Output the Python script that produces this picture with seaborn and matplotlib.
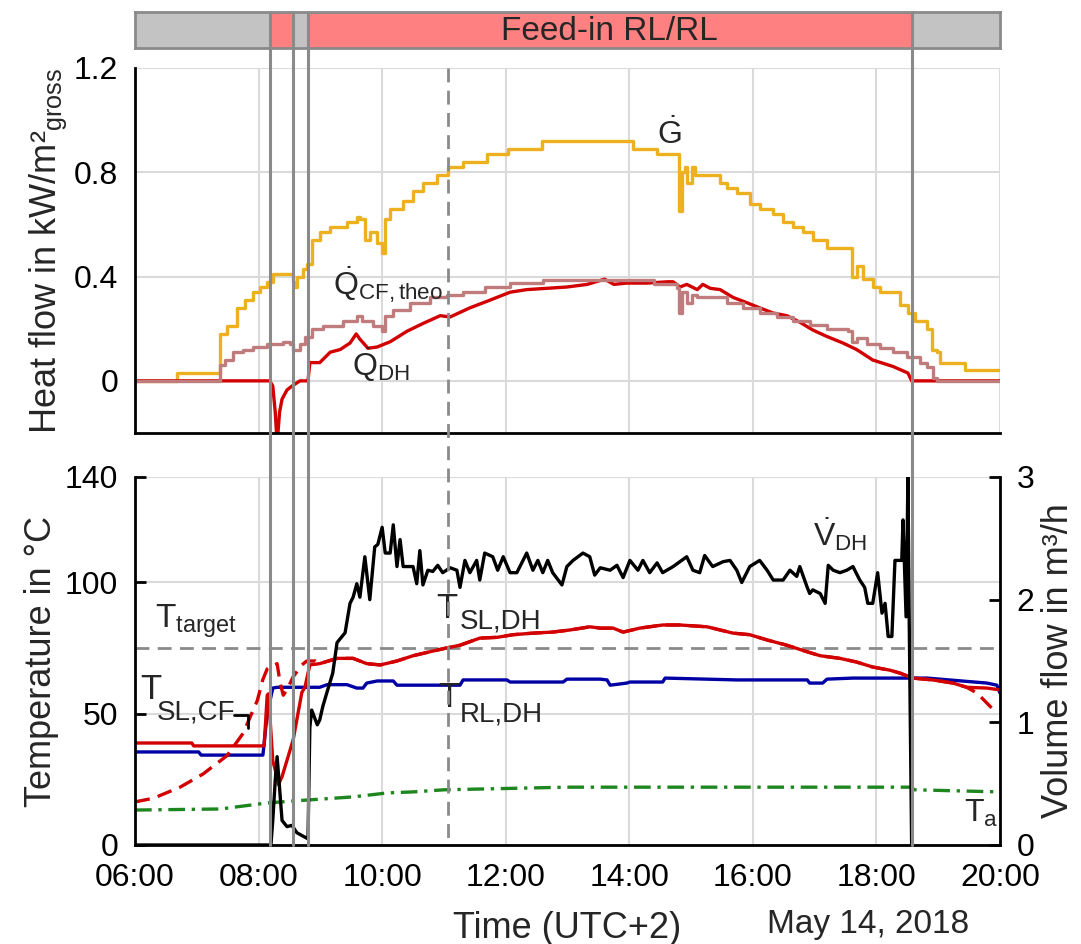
import numpy as np
import matplotlib
matplotlib.use("Agg")
import matplotlib.pyplot as plt
import matplotlib.transforms as mtransforms
from matplotlib.lines import Line2D
import seaborn as sns

# ---- data (time in hours, UTC+2) ----
# phases of the top bar
phase_edges = [6.0, 8.18, 8.56, 8.80, 18.57, 20.0]
phase_colors = ['#C3C3C3', '#FF8080', '#C3C3C3', '#FF8080', '#C3C3C3']
phase_label = 'Feed-in RL/RL'
marker_times = [8.18, 8.56, 8.80, 18.57]
dashed_time = 11.07

# heat flows, kW/m2 gross
t_g = [6.0, 6.68, 6.68, 7.21, 7.38, 7.49, 7.65, 7.78, 7.91, 8.02, 8.14, 8.23, 8.51, 8.56, 8.59, 8.62,
       8.72, 8.78, 8.86, 8.99, 9.16, 9.43, 9.59, 9.64, 9.72, 9.80, 9.92, 10.00, 10.05, 10.13, 10.34,
       10.50, 10.66, 10.89, 11.07, 11.31, 11.70, 12.04, 12.59, 14.01, 14.06, 14.42, 14.45, 14.77,
       14.80, 14.85, 14.90, 14.93, 15.01, 15.06, 15.42, 15.47, 15.58, 15.74, 15.95, 16.11, 16.33,
       16.49, 16.65, 16.81, 16.97, 17.20, 17.54, 17.60, 17.68, 17.78, 17.94, 18.06, 18.27, 18.38,
       18.51, 18.62, 18.75, 18.82, 18.90, 18.98, 19.03, 19.40, 19.43, 20.0]
g = [0, 0, 0.03, 0.03, 0.18, 0.21, 0.28, 0.31, 0.34, 0.36, 0.38, 0.41, 0.41, 0.38, 0.36, 0.40,
     0.43, 0.45, 0.54, 0.57, 0.59, 0.61, 0.63, 0.62, 0.54, 0.57, 0.53, 0.49, 0.62, 0.66, 0.69,
     0.73, 0.76, 0.79, 0.82, 0.84, 0.87, 0.89, 0.92, 0.92, 0.89, 0.89, 0.87, 0.87,
     0.65, 0.80, 0.82, 0.76, 0.82, 0.79, 0.79, 0.76, 0.74, 0.72, 0.68, 0.66, 0.64,
     0.61, 0.59, 0.57, 0.54, 0.51, 0.51, 0.40, 0.44, 0.39, 0.36, 0.34, 0.34, 0.29,
     0.26, 0.23, 0.23, 0.20, 0.12, 0.11, 0.07, 0.07, 0.04, 0.04]

t_qcf = [6.0, 7.25, 7.38, 7.46, 7.59, 7.75, 7.91, 8.14, 8.40, 8.51, 8.56, 8.67, 8.75, 8.86, 9.04,
         9.37, 9.59, 9.67, 9.85, 10.00, 10.05, 10.18, 10.45, 10.77, 11.05, 11.31, 11.66, 12.07,
         12.60, 14.01, 14.40, 14.77, 14.80, 14.85, 14.93, 15.01, 15.10, 15.35, 15.58, 15.84,
         16.11, 16.39, 16.65, 16.92, 17.20, 17.54, 17.60, 17.68, 17.85, 18.06, 18.27, 18.49,
         18.70, 18.82, 18.91, 18.98, 20.0]
q_cf = [0, 0, 0.06, 0.08, 0.11, 0.12, 0.13, 0.14, 0.15, 0.14, 0.12, 0.14, 0.17, 0.20, 0.21,
        0.23, 0.25, 0.23, 0.21, 0.19, 0.25, 0.27, 0.30, 0.32, 0.33, 0.34, 0.36, 0.375,
        0.385, 0.385, 0.37, 0.355, 0.26, 0.34, 0.30, 0.33, 0.32, 0.32, 0.30, 0.28,
        0.26, 0.245, 0.23, 0.215, 0.20, 0.19, 0.15, 0.165, 0.14, 0.125, 0.11, 0.09,
        0.07, 0.055, 0.01, 0, 0]

t_qdh = [6.0, 8.18, 8.23, 8.27, 8.30, 8.34, 8.38, 8.46, 8.54, 8.67, 8.80, 8.83, 8.99, 9.16, 9.32,
         9.48, 9.58, 9.64, 9.77, 9.92, 10.13, 10.40, 10.66, 10.94, 11.10, 11.42, 11.75, 12.07,
         12.34, 12.67, 12.99, 13.32, 13.60, 13.75, 13.96, 14.29, 14.62, 14.71, 14.82, 14.93,
         15.10, 15.19, 15.31, 15.47, 15.68, 15.90, 16.11, 16.33, 16.55, 16.76, 16.97, 17.20,
         17.46, 17.68, 17.94, 18.27, 18.51, 18.57, 20.0]
q_dh = [0, 0, -0.02, -0.12, -0.24, -0.12, -0.07, -0.035, -0.02, 0, 0, 0.07, 0.07, 0.11, 0.12,
        0.145, 0.18, 0.16, 0.125, 0.13, 0.15, 0.19, 0.22, 0.25, 0.245, 0.28, 0.31, 0.34,
        0.35, 0.355, 0.36, 0.37, 0.39, 0.37, 0.375, 0.375, 0.38, 0.38, 0.36, 0.37,
        0.35, 0.37, 0.355, 0.35, 0.32, 0.30, 0.28, 0.26, 0.25, 0.225, 0.195, 0.17,
        0.145, 0.12, 0.08, 0.055, 0.03, 0, 0]

# temperatures, degC
t_sldh = [6.0, 6.92, 6.95, 8.09, 8.14, 8.16, 8.23, 8.30, 8.32, 8.38, 8.56, 8.70, 8.75, 8.83, 8.99,
          9.27, 9.53, 9.75, 9.97, 10.24, 10.50, 10.77, 11.05, 11.26, 11.58, 11.86, 12.12, 12.44,
          12.76, 13.04, 13.36, 13.53, 13.74, 13.90, 14.17, 14.54, 14.82, 15.26, 15.47, 15.68,
          15.95, 16.23, 16.55, 16.88, 17.09, 17.41, 17.68, 17.94, 18.22, 18.38, 18.59, 18.91,
          19.24, 19.46, 19.79, 20.0]
sl_dh = [38.8, 38.8, 37.7, 37.7, 57, 57.5, 32, 26, 23, 26, 40, 58, 60, 68.5, 69,
         71, 71, 69, 68.5, 70, 72, 73.5, 75, 76, 78.7, 79, 80, 80.6,
         81, 81.8, 83, 82.5, 82.5, 81, 82.5, 83.7, 83.7, 83, 81.8, 80.6,
         80, 78, 76, 73.5, 72, 71, 69.6, 67.7, 66.5, 65.4, 63.5, 62.8,
         61.6, 60, 59.7, 59]

t_slcf_start = [6.0, 6.30, 6.73, 7.10, 7.49, 7.75, 7.98, 8.07, 8.14, 8.30, 8.35, 8.40, 8.46, 8.56,
                8.70, 8.78, 8.92]
slcf_start = [16.4, 17.8, 22, 27, 34, 42.5, 55, 63, 67, 69, 61.5, 57, 59, 64,
              68.5, 70, 70]
t_slcf_end = [19.63, 19.87]
slcf_end = [57.8, 52]

t_rldh = [6.0, 7.03, 7.07, 8.07, 8.14, 8.23, 8.30, 8.99, 9.11, 9.43, 9.59, 9.69, 9.75, 9.92, 10.18,
          10.24, 11.26, 11.31, 12.02, 12.07, 12.93, 12.99, 13.53, 13.64, 13.69, 13.96, 14.01,
          14.54, 14.58, 15.74, 16.88, 16.92, 17.13, 17.20, 17.62, 18.82, 19.79, 19.95, 20.0]
rl_dh = [35.4, 35.4, 34.2, 34.2, 50, 59.7, 60, 60, 61, 61, 59.7, 59.7, 61.6, 62.4, 62.4,
         60.8, 60.8, 62.8, 62.8, 62, 62, 63.1, 63.1, 62.8, 60.8, 61.6, 62,
         62, 63.5, 62.8, 62.8, 61.6, 61.6, 63.1, 63.5, 63.5, 61.6, 60.8, 57.8]

t_amb = [6.0, 7.38, 8.14, 8.78, 9.53, 10.08, 10.50, 11.0, 12.0, 13.0, 18.55, 18.62, 20.0]
amb = [13.3, 13.7, 16, 17.1, 18.3, 19.8, 20.2, 21, 21.5, 22, 22, 21, 20.2]

t_target = 75

# volume flow, m3/h
t_vdh = [6.0, 8.20, 8.23, 8.27, 8.30, 8.33, 8.38, 8.46, 8.54, 8.62, 8.80, 8.83, 8.86, 8.95, 8.99,
         9.04, 9.11, 9.20, 9.27, 9.40, 9.48, 9.53, 9.59, 9.64, 9.72, 9.80, 9.88, 9.93, 10.00,
         10.05, 10.13, 10.18, 10.24, 10.29, 10.34, 10.50, 10.56, 10.61, 10.66, 10.74, 10.82,
         10.90, 10.98, 11.10, 11.21, 11.26, 11.34, 11.42, 11.53, 11.58, 11.66, 11.79, 11.87,
         11.96, 12.07, 12.18, 12.34, 12.44, 12.52, 12.60, 12.68, 12.76, 12.91, 12.99, 13.09,
         13.25, 13.36, 13.44, 13.53, 13.69, 13.80, 13.90, 14.01, 14.14, 14.22, 14.33, 14.45,
         14.54, 14.71, 14.93, 15.03, 15.14, 15.22, 15.35, 15.52, 15.63, 15.74, 15.82, 15.95,
         16.11, 16.23, 16.33, 16.49, 16.60, 16.71, 16.76, 16.88, 16.92, 16.97, 17.09, 17.17,
         17.22, 17.30, 17.41, 17.52, 17.62, 17.73, 17.81, 17.86, 17.94, 18.02, 18.09, 18.14,
         18.19, 18.25, 18.30, 18.41, 18.43, 18.48, 18.51, 18.53, 18.57]
v_dh = [0, 0, 0.2, 0.53, 0.72, 0.53, 0.2, 0.15, 0.16, 0.1, 0.05, 0.96, 1.1, 0.98, 1.02,
        1.13, 1.25, 1.40, 1.65, 1.73, 1.97, 2.02, 2.13, 2.02, 2.35, 2.0, 2.43, 2.45, 2.59,
        2.38, 2.38, 2.61, 2.27, 2.49, 2.27, 2.27, 2.13, 2.40, 2.12, 2.24, 2.23,
        2.28, 2.22, 2.26, 2.24, 2.10, 2.32, 2.22, 2.32, 2.16, 2.38, 2.35, 2.24,
        2.35, 2.22, 2.22, 2.38, 2.24, 2.32, 2.22, 2.32, 2.22, 2.12, 2.27, 2.32,
        2.38, 2.35, 2.20, 2.26, 2.24, 2.28, 2.18, 2.32, 2.24, 2.32, 2.22, 2.30,
        2.22, 2.27, 2.35, 2.24, 2.22, 2.36, 2.27, 2.31, 2.32, 2.24, 2.14, 2.27,
        2.32, 2.24, 2.16, 2.16, 2.24, 2.19, 2.27, 2.10, 2.05, 2.08, 2.05, 1.97,
        2.28, 2.24, 2.22, 2.24, 2.27, 2.16, 2.10, 1.97, 1.97, 2.22, 1.89, 1.97,
        1.70, 1.70, 2.32, 2.32, 2.65, 1.86, 3.0, 1.86, 0]

x_ticks = [6, 8, 10, 12, 14, 16, 18, 20]
x_ticklabels = ['06:00', '08:00', '10:00', '12:00', '14:00', '16:00', '18:00', '20:00']

# ---- style ----
sns.set_style('white')
plt.rcParams['font.family'] = ['Liberation Sans', 'DejaVu Sans']
plt.rcParams['mathtext.fontset'] = 'custom'
plt.rcParams['mathtext.rm'] = 'Liberation Sans'
plt.rcParams['mathtext.it'] = 'Liberation Sans'
plt.rcParams['mathtext.default'] = 'regular'

C_G = '#EDB120'
C_RED = '#D20000'
C_QCF = '#C07C7C'
C_BLUE = '#0000A5'
C_GREEN = '#1E861E'
C_GRAY = '#8A8A8A'
C_GRID = '#DADADA'
FS = 23   # tick labels
FL = 26   # axis labels
FA = 23   # annotations
LW = 2.4

fig = plt.figure(figsize=(10.81, 9.44), dpi=100)
W, H = 1081, 944
ax_bar = fig.add_axes([135 / W, 1 - 48 / H, 865 / W, 36 / H])
ax_t = fig.add_axes([135 / W, 1 - 433 / H, 865 / W, 365 / H])
ax_b = fig.add_axes([135 / W, 1 - 845 / H, 865 / W, 368 / H])
ax_v = ax_b.twinx()

# phase bar
for i in range(len(phase_colors)):
    ax_bar.axvspan(phase_edges[i], phase_edges[i + 1], color=phase_colors[i], lw=0)
ax_bar.set_xlim(6, 20)
ax_bar.set_ylim(0, 1)
ax_bar.set_xticks([])
ax_bar.set_yticks([])
for s in ax_bar.spines.values():
    s.set_color(C_GRAY)
    s.set_linewidth(2)
ax_bar.text((phase_edges[3] + phase_edges[4]) / 2, 0.45, phase_label, ha='center', va='center', fontsize=24)

# top: heat flows
sns.lineplot(x=t_g, y=g, ax=ax_t, color=C_G, lw=LW, estimator=None, sort=False, drawstyle='steps-post')
sns.lineplot(x=t_qdh, y=q_dh, ax=ax_t, color=C_RED, lw=LW, estimator=None, sort=False)
sns.lineplot(x=t_qcf, y=q_cf, ax=ax_t, color=C_QCF, lw=LW, estimator=None, sort=False, drawstyle='steps-post')
ax_t.set_xlim(6, 20)
ax_t.set_ylim(-0.2, 1.2)
ax_t.set_yticks([0, 0.4, 0.8, 1.2])
ax_t.set_yticklabels(['0', '0.4', '0.8', '1.2'])
ax_t.set_xticks(x_ticks)
ax_t.set_xticklabels([])
ax_t.set_ylabel('Heat flow in kW/m²$_{gross}$', fontsize=FL)
ax_t.yaxis.set_label_coords(-0.076, 0.5)

ax_t.text(14.64, 0.945, r'$\dot{G}$', fontsize=FA, ha='center', va='center')
ax_t.text(9.20, 0.368, r'$\dot{Q}_{CF,theo}$', fontsize=FA, ha='left', va='center')
ax_t.text(9.51, 0.062, r'$\dot{Q}_{DH}$', fontsize=FA, ha='left', va='center')

# bottom: temperatures and volume flow
sl_dh_arr = np.array(sl_dh)
t_sldh_arr = np.array(t_sldh)
mid = (t_sldh_arr > 8.95) & (t_sldh_arr < 19.5)
t_slcf = np.concatenate([t_slcf_start, t_sldh_arr[mid], t_slcf_end])
sl_cf = np.concatenate([slcf_start, sl_dh_arr[mid], slcf_end])

ax_b.axhline(t_target, color=C_GRAY, lw=2, linestyle=(0, (5, 3)))
sns.lineplot(x=t_amb, y=amb, ax=ax_b, color=C_GREEN, lw=LW, estimator=None, sort=False,
             linestyle=(0, (5, 2, 1, 2)))
sns.lineplot(x=t_rldh, y=rl_dh, ax=ax_b, color=C_BLUE, lw=LW, estimator=None, sort=False)
sns.lineplot(x=t_slcf, y=sl_cf, ax=ax_b, color=C_RED, lw=LW, estimator=None, sort=False,
             linestyle=(0, (4.5, 2.5)))
sns.lineplot(x=t_sldh, y=sl_dh, ax=ax_b, color=C_RED, lw=LW, estimator=None, sort=False)
sns.lineplot(x=t_vdh, y=v_dh, ax=ax_v, color='black', lw=LW, estimator=None, sort=False)

ax_b.set_xlim(6, 20)
ax_b.set_ylim(0, 140)
ax_b.set_yticks([0, 50, 100, 140])
ax_b.set_xticks(x_ticks)
ax_b.set_xticklabels(x_ticklabels)
ax_b.set_ylabel('Temperature in °C', fontsize=FL)
ax_b.yaxis.set_label_coords(-0.088, 0.5)
ax_b.set_xlabel('Time (UTC+2)', fontsize=FL, labelpad=13)
ax_v.set_ylim(0, 3)
ax_v.set_yticks([0, 1, 2, 3])
ax_v.set_ylabel('Volume flow in m³/h', fontsize=FL)
ax_v.yaxis.set_label_coords(1.047, 0.5)
fig.text(868 / W, 1 - 924 / H, 'May 14, 2018', fontsize=24, ha='center', va='center')

ax_v.text(16.97, 2.53, r'$\dot{V}_{DH}$', fontsize=FA, ha='left', va='center')
ax_b.text(6.32, 85, r'$T_{target}$', fontsize=FA + 1, ha='left', va='center')
ax_b.text(6.08, 59, 'T', fontsize=FA + 2, ha='left', va='center')
ax_b.text(6.36, 50.5, 'SL,CF', fontsize=FA - 3, ha='left', va='center')
ax_b.annotate('', xy=(7.83, 44.5), xytext=(7.6, 49.4),
              arrowprops=dict(arrowstyle='-', color='black', lw=2, shrinkA=0, shrinkB=0,
                              connectionstyle='angle,angleA=0,angleB=90,rad=0'))
ax_b.text(10.88, 90, 'T', fontsize=FA + 2, ha='left', va='center')
ax_b.text(11.26, 85, 'SL,DH', fontsize=FA - 3, ha='left', va='center')
ax_b.text(10.9, 56, 'T', fontsize=FA + 2, ha='left', va='center')
ax_b.text(11.26, 49.5, 'RL,DH', fontsize=FA - 3, ha='left', va='center')
ax_b.text(19.42, 12, r'$T_a$', fontsize=FA, ha='left', va='center')

# axes styling
for ax in (ax_t, ax_b):
    ax.grid(True, color=C_GRID, lw=1.5)
    ax.set_axisbelow(True)
    ax.spines['top'].set_visible(False)
    ax.spines['right'].set_visible(False)
    ax.spines['left'].set_linewidth(2)
    ax.spines['bottom'].set_linewidth(2)
    ax.spines['left'].set_color('black')
    ax.spines['bottom'].set_color('black')
    ax.tick_params(direction='in', length=8, width=2, labelsize=FS, colors='black')
ax_t.tick_params(axis='y', pad=12)
ax_b.tick_params(axis='y', pad=12)
ax_b.tick_params(axis='x', pad=13)
ax_v.grid(False)
for k in ('left', 'top', 'bottom'):
    ax_v.spines[k].set_visible(False)
ax_v.spines['right'].set_linewidth(2)
ax_v.spines['right'].set_color('black')
ax_v.tick_params(direction='in', length=8, width=2, labelsize=FS, pad=12, colors='black')

# vertical phase markers across all panels
trans = mtransforms.blended_transform_factory(ax_b.transData, fig.transFigure)
y_top = ax_bar.get_position().y1
y_bot = ax_b.get_position().y0
for tm in marker_times:
    fig.add_artist(Line2D([tm, tm], [y_top, y_bot], transform=trans, color=C_GRAY, lw=2.2, zorder=5))
fig.add_artist(Line2D([dashed_time, dashed_time], [ax_t.get_position().y1, y_bot], transform=trans,
                      color=C_GRAY, lw=2, linestyle=(0, (5, 3)), zorder=5))

fig.savefig('out.png', dpi=100)
